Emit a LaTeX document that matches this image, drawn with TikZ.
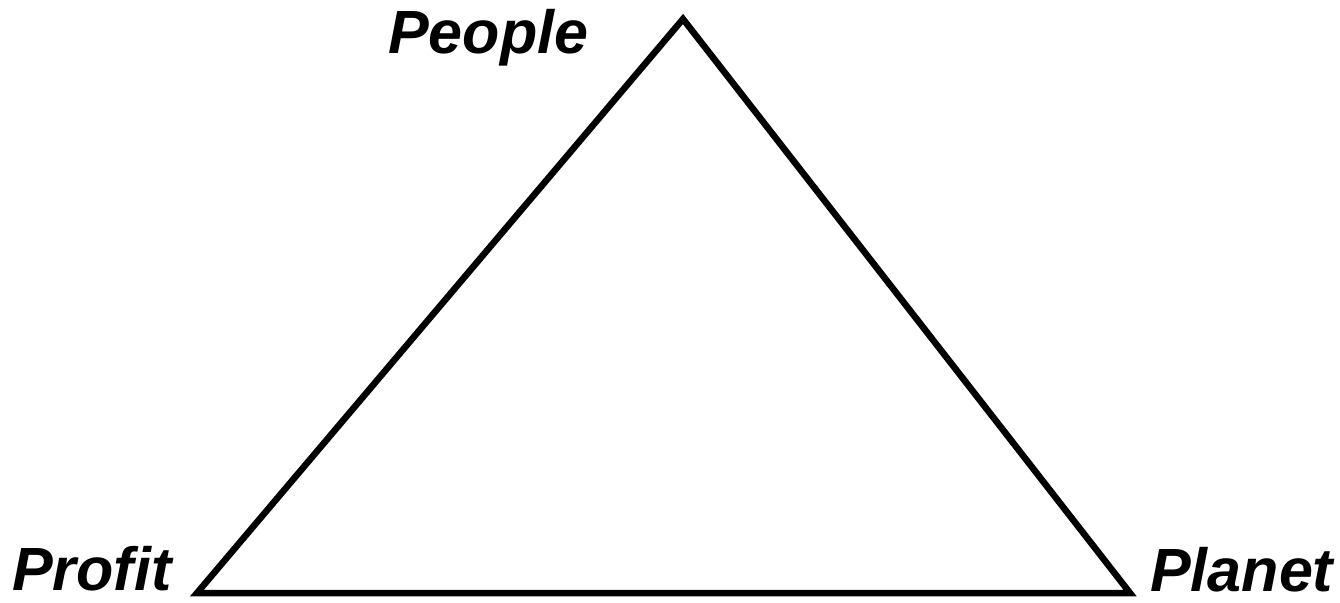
\documentclass[tikz,border=0pt]{standalone}
\usepackage{fontspec}
\setmainfont{Liberation Sans}
\begin{document}
\begin{tikzpicture}[x=1pt,y=-1pt,
  lbl/.style={inner sep=0pt,anchor=base west,font=\fontsize{61}{61}\selectfont\bfseries\itshape},
  edge/.style={line width=6.5pt,line join=miter,black}]
\useasboundingbox[fill=white] (0,0) rectangle (1340,602);
\coordinate (top) at (683,19);
\coordinate (left) at (197,593);
\coordinate (right) at (1130,593);
\draw[edge] (top) -- (right) -- (left) -- cycle;
\node[lbl] (people) at (388,53) {People};
\node[lbl] (profit) at (12,590) {Profit};
\node[lbl] (planet) at (1150,591) {Planet};
\end{tikzpicture}
\end{document}
